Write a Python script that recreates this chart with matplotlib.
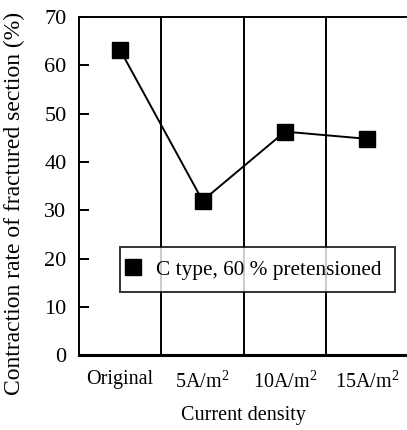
import numpy as np
import matplotlib.pyplot as plt

plt.rcParams['font.family'] = 'Liberation Serif'
plt.rcParams['mathtext.fontset'] = 'custom'
plt.rcParams['mathtext.rm'] = 'Liberation Serif'

# data
categories = ['Original', r'5A/m$^{2}$', r'10A/m$^{2}$', r'15A/m$^{2}$']
contraction = [63.2, 32.0, 46.3, 44.8]

fig = plt.figure(figsize=(4.07, 4.30), dpi=100)
ax = fig.add_axes([0.194, 0.174, 0.81, 0.786])

x = np.arange(len(categories))
ax.plot(x, contraction, color='black', lw=1.4, marker='s', ms=11,
        label='C type, 60 % pretensioned')

# separators between categories
for b in x[:-1] + 0.5:
    ax.axvline(b, color='black', lw=1.4)

ax.set_xlim(-0.5, 3.5)
ax.set_ylim(0, 70)
ax.set_yticks(np.arange(0, 71, 10))
ax.set_xticks(x)
ax.set_xticklabels(categories, fontsize=14.5)
ax.tick_params(axis='y', direction='in', length=7, width=1.4, labelsize=16, pad=9)
ax.tick_params(axis='x', length=0, pad=11)
ax.spines['right'].set_visible(False)
for s in ['left', 'top']:
    ax.spines[s].set_linewidth(1.4)
ax.spines['bottom'].set_linewidth(2.2)

ax.set_xlabel('Current density', fontsize=14.5, labelpad=10)
ax.set_ylabel('Contraction rate of fractured section (%)', fontsize=17)
ax.yaxis.set_label_coords(-0.165, 0.45)

leg = ax.legend(loc='upper left', bbox_to_anchor=(0.125, 0.32), fontsize=15.3,
                frameon=True, fancybox=False, edgecolor='black',
                handlelength=0, handletextpad=1.1, borderpad=0.6,
                borderaxespad=0, markerscale=1.0)
leg.get_frame().set_linewidth(1.4)

fig.savefig('out.png', dpi=100)
